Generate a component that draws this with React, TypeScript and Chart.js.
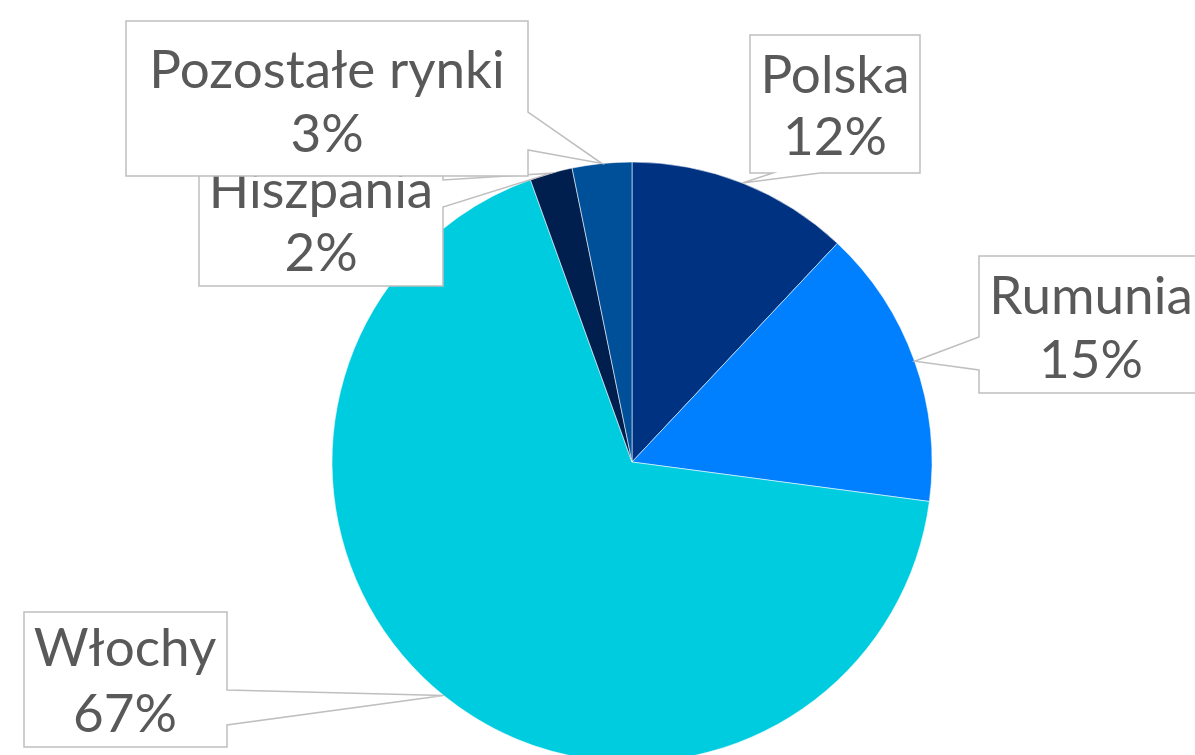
import React, { useEffect, useRef } from "react";
import { Chart, registerables } from "chart.js";

Chart.register(...registerables);

const categories = ["Polska", "Rumunia", "Włochy", "Hiszpania", "Pozostałe rynki"];
const shares = [12.0, 15.1, 67.4, 2.3, 3.2];
const sliceColors = ["#003282", "#0080FF", "#00CCE0", "#001F4F", "#004F99"];

type Callout = {
  x: number; y: number; w: number; h: number;
  side: "left" | "right" | "bottom";
  a: number; b: number; cx: number; base1: number; base2: number;
};

// callout box layout (pixels)
const callouts: Callout[] = [
  { x: 750, y: 35, w: 170, h: 138, side: "bottom", a: 773, b: 820, cx: 835, base1: 93, base2: 155 },
  { x: 979, y: 256, w: 230, h: 137, side: "left", a: 337, b: 370, cx: 1091, base1: 314, base2: 378 },
  { x: 24, y: 612, w: 203, h: 135, side: "right", a: 690, b: 725, cx: 125, base1: 666, base2: 732 },
  { x: 199, y: 131, w: 244, h: 155, side: "right", a: 180, b: 207, cx: 321, base1: 208, base2: 271 },
  { x: 126, y: 21, w: 402, h: 155, side: "right", a: 112, b: 150, cx: 327, base1: 88, base2: 152 },
];

const calloutPlugin = {
  id: "callouts",
  afterDatasetsDraw(chart: any) {
    const ctx = chart.ctx as CanvasRenderingContext2D;
    const meta = chart.getDatasetMeta(0);
    const data = chart.data.datasets[0].data as number[];
    const total = data.reduce((s, v) => s + v, 0);
    ctx.save();
    meta.data.forEach((arc: any, i: number) => {
      const c = callouts[i];
      if (!c) return;
      const p = arc.getProps(["x", "y", "startAngle", "endAngle", "outerRadius"], true);
      const mid = (p.startAngle + p.endAngle) / 2;
      const tx = p.x + p.outerRadius * Math.cos(mid);
      const ty = p.y + p.outerRadius * Math.sin(mid);
      const { x, y, w, h } = c;
      ctx.beginPath();
      ctx.moveTo(x, y);
      ctx.lineTo(x + w, y);
      if (c.side === "right") {
        ctx.lineTo(x + w, c.a);
        ctx.lineTo(tx, ty);
        ctx.lineTo(x + w, c.b);
      }
      ctx.lineTo(x + w, y + h);
      if (c.side === "bottom") {
        ctx.lineTo(c.b, y + h);
        ctx.lineTo(tx, ty);
        ctx.lineTo(c.a, y + h);
      }
      ctx.lineTo(x, y + h);
      if (c.side === "left") {
        ctx.lineTo(x, c.b);
        ctx.lineTo(tx, ty);
        ctx.lineTo(x, c.a);
      }
      ctx.closePath();
      ctx.fillStyle = "#ffffff";
      ctx.fill();
      ctx.lineWidth = 1.5;
      ctx.strokeStyle = "#BFBFBF";
      ctx.lineJoin = "miter";
      ctx.stroke();

      ctx.fillStyle = "#595959";
      ctx.font = "53px Lato";
      ctx.textAlign = "center";
      ctx.textBaseline = "alphabetic";
      const pct = Math.round((data[i] / total) * 100) + "%";
      ctx.fillText(chart.data.labels[i], c.cx, c.base1);
      ctx.fillText(pct, c.cx, c.base2);
    });
    ctx.restore();
  },
};

export default function App() {
  const ref = useRef<HTMLCanvasElement | null>(null);
  useEffect(() => {
    if (!ref.current) return;
    const chart = new Chart(ref.current, {
      type: "pie",
      data: {
        labels: categories,
        datasets: [
          {
            data: shares,
            backgroundColor: sliceColors,
            borderColor: "rgba(255,255,255,0.55)",
            borderWidth: 1,
            radius: 300,
          } as any,
        ],
      },
      options: {
        responsive: false,
        animation: false,
        devicePixelRatio: 1,
        layout: { padding: { left: 69, top: 169, right: 0, bottom: 0 } },
        plugins: {
          legend: { display: false },
          tooltip: { enabled: false },
        },
      },
      plugins: [calloutPlugin],
    });
    return () => chart.destroy();
  }, []);
  return (
    <div style={{ position: "absolute", left: 0, top: 0, width: 1195, height: 755, background: "#fff", overflow: "hidden" }}>
      <canvas ref={ref} width={1195} height={755} style={{ display: "block" }} />
    </div>
  );
}
